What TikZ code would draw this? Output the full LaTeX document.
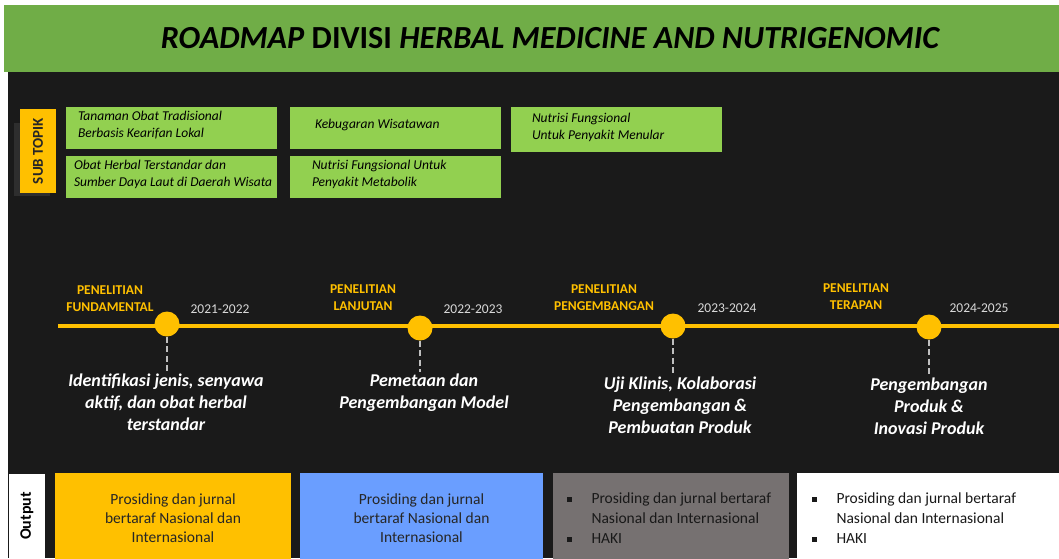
\documentclass[tikz,border=0pt]{standalone}
\usepackage{fontspec}
\setmainfont{Carlito}
\usetikzlibrary{positioning}
\definecolor{headgreen}{HTML}{70AD47}
\definecolor{bgdark}{HTML}{1A1A1A}
\definecolor{subgreen}{HTML}{92D050}
\definecolor{gold}{HTML}{FFC000}
\definecolor{skyblue}{HTML}{6A9EFF}
\definecolor{slate}{HTML}{767171}
\definecolor{yeargray}{HTML}{D9D9D9}
\definecolor{dashgray}{HTML}{BFBFBF}
\definecolor{shadowgray}{HTML}{2E2E2E}
\newcommand{\sqbul}{\rule[1.5pt]{5pt}{5pt}}
\begin{document}
\begin{tikzpicture}[x=1pt,y=-1pt,
  subbox/.style={fill=subgreen, minimum width=211, minimum height=42, inner sep=0},
  subtxt/.style={inner sep=0, align=left, text=black, yshift=2.5pt, font=\fontsize{13.5}{17}\selectfont\itshape},
  dot/.style={circle, fill=gold, minimum size=25, inner sep=0},
  phase/.style={align=center, text=gold, font=\fontsize{13.5}{17}\selectfont\bfseries},
  year/.style={text=yeargray, font=\fontsize{13.5}{16}\selectfont},
  desc/.style={anchor=north, align=center, text=white, inner sep=2, font=\fontsize{18}{22}\selectfont\bfseries\itshape},
  dashline/.style={dashgray, line width=2.5, dash pattern=on 6pt off 3.5pt},
  outbox/.style={minimum width=236, minimum height=90, inner sep=0, align=center, text=black!85, font=\fontsize{15.5}{19}\selectfont},
  listtxt/.style={inner sep=0, align=left, text=black!90, font=\fontsize{15.5}{20}\selectfont}
]
\useasboundingbox (0,0) rectangle (1059,558);
\fill[white] (0,0) rectangle (1059,558);
\fill[bgdark] (8,72) rectangle (1059,558);
\node[fill=headgreen, minimum width=1055, minimum height=67, inner sep=0] (head) at (531.5,38.5) {};
\node[inner sep=0, text=black, font=\fontsize{32.2}{36}\selectfont\bfseries] (title) at (550.5,38.5) {\textit{ROADMAP} DIVISI \textit{HERBAL MEDICINE AND NUTRIGENOMIC}};
\fill[shadowgray] (14,123) rectangle (50,196);
\node[fill=gold, minimum width=84, minimum height=36, inner sep=0, rotate=90, text=black!85, font=\fontsize{15}{18}\selectfont\bfseries] (subtopik) at (38,151) {SUB TOPIK};
\node[subbox] (s1) at (171.5,128) {};
\node[subtxt, right=12pt of s1.west] (s1t) {Tanaman Obat Tradisional\\Berbasis Kearifan Lokal};
\node[subbox] (s2) at (171.5,176.5) {};
\node[subtxt, right=8pt of s2.west] (s2t) {Obat Herbal Terstandar dan\\Sumber Daya Laut di Daerah Wisata};
\node[subbox] (s3) at (395.5,127.5) {};
\node[subtxt, right=25pt of s3.west] (s3t) {Kebugaran Wisatawan};
\node[subbox] (s4) at (395.5,176.5) {};
\node[subtxt, right=22pt of s4.west] (s4t) {Nutrisi Fungsional Untuk\\Penyakit Metabolik};
\node[subbox, minimum height=45] (s5) at (616.5,129.5) {};
\node[subtxt, right=21pt of s5.west] (s5t) {Nutrisi Fungsional\\Untuk Penyakit Menular};
\coordinate (tstart) at (58,326);
\coordinate (tend) at (1059,326);
\draw[gold, line width=4] (tstart) -- (tend);
\node[dot] (d1) at (167,324) {};
\node[dot] (d2) at (420,328) {};
\node[dot] (d3) at (673,326) {};
\node[dot] (d4) at (929,327) {};
\node[phase] (p1) at (110,298.5) {PENELITIAN\\FUNDAMENTAL};
\node[phase] (p2) at (363,297.5) {PENELITIAN\\LANJUTAN};
\node[phase] (p3) at (604,297.5) {PENELITIAN\\PENGEMBANGAN};
\node[phase] (p4) at (856,296.5) {PENELITIAN\\TERAPAN};
\node[year] (y1) at (220,309) {2021-2022};
\node[year] (y2) at (473,309) {2022-2023};
\node[year] (y3) at (727,308) {2023-2024};
\node[year] (y4) at (979,308) {2024-2025};
\node[desc] (t1) at (166,372) {Identifikasi jenis, senyawa\\aktif, dan obat herbal\\terstandar};
\node[desc] (t2) at (424,372) {Pemetaan dan\\Pengembangan Model};
\node[desc] (t3) at (680,375) {Uji Klinis, Kolaborasi\\Pengembangan \&\\Pembuatan Produk};
\node[desc] (t4) at (929,376) {Pengembangan\\Produk \&\\Inovasi Produk};
\draw[dashline] (d1) -- (d1 |- t1.north);
\draw[dashline] (d2) -- (d2 |- t2.north);
\draw[dashline] (d3) -- (d3 |- t3.north);
\draw[dashline] (d4) -- (d4 |- t4.north);
\node[fill=white, minimum width=84, minimum height=36, inner sep=0, rotate=90, text=black, font=\fontsize{16}{19}\selectfont\bfseries] (outlbl) at (27,516) {Output};
\node[outbox, fill=gold] (o1) at (173,518) {Prosiding dan jurnal\\bertaraf Nasional dan\\Internasional};
\node[outbox, fill=skyblue, minimum width=243] (o2) at (421.5,518) {Prosiding dan jurnal\\bertaraf Nasional dan\\Internasional};
\node[outbox, fill=slate] (o3) at (671,518) {};
\node[listtxt, right=13.5pt of o3.west] (l3) {\makebox[25pt][l]{\sqbul}Prosiding dan jurnal bertaraf\\\hspace*{25pt}Nasional dan Internasional\\\makebox[25pt][l]{\sqbul}HAKI};
\node[outbox, fill=white, minimum width=264] (o4) at (929,518) {};
\node[listtxt, right=14.5pt of o4.west] (l4) {\makebox[25pt][l]{\sqbul}Prosiding dan jurnal bertaraf\\\hspace*{25pt}Nasional dan Internasional\\\makebox[25pt][l]{\sqbul}HAKI};
\end{tikzpicture}
\end{document}
